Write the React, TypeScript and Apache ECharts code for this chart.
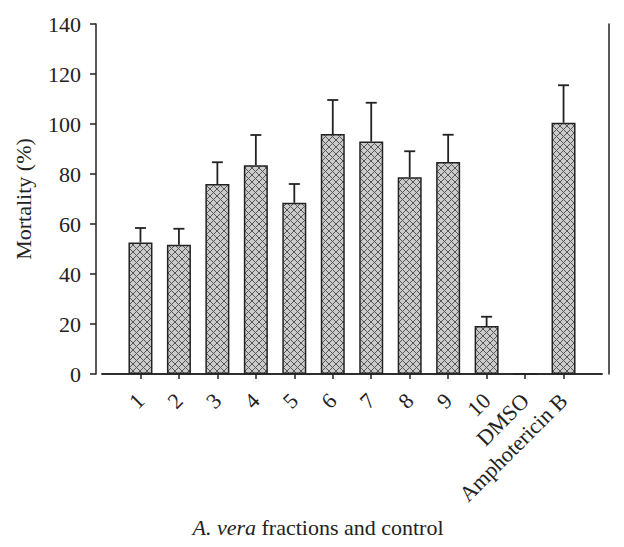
import React, { useEffect, useRef } from 'react';
import * as echarts from 'echarts';

const categories = ['1', '2', '3', '4', '5', '6', '7', '8', '9', '10', 'DMSO', 'Amphotericin B'];
const mortality = [52.6, 51.7, 76, 83.5, 68.5, 96, 93, 78.7, 84.8, 19.2, 0, 100.5];
const errors = [5.8, 6.4, 8.7, 12.1, 7.5, 13.6, 15.5, 10.4, 10.9, 3.7, 0, 15];
const yMin = 0;
const yMax = 140;
const yInterval = 20;
const yTitle = 'Mortality (%)';
const xTitleItalic = 'A. vera';
const xTitleRest = ' fractions and control';

const FONT = '"Liberation Serif", "DejaVu Serif", serif';
const INK = '#222';
const FS = 22;

function makePattern() {
  const s = 7;
  const c = document.createElement('canvas');
  c.width = s;
  c.height = s;
  const ctx = c.getContext('2d')!;
  ctx.fillStyle = '#cbcbcb';
  ctx.fillRect(0, 0, s, s);
  ctx.strokeStyle = '#555';
  ctx.lineWidth = 1;
  ctx.beginPath();
  ctx.moveTo(-1, -1);
  ctx.lineTo(s + 1, s + 1);
  ctx.moveTo(s + 1, -1);
  ctx.lineTo(-1, s + 1);
  ctx.stroke();
  return { image: c, repeat: 'repeat', imageWidth: s, imageHeight: s };
}

export default function App() {
  const ref = useRef<HTMLDivElement>(null);
  useEffect(() => {
    if (!ref.current) return;
    const chart = echarts.init(ref.current, undefined, { renderer: 'svg' });
    const padded = ['', ...categories, ''];
    const barData: any[] = ['-', ...mortality, '-'];
    const errData = categories
      .map((_, i) => [i + 1, mortality[i], errors[i]])
      .filter((d) => d[2] > 0);
    const lastIdx = padded.length - 1;
    chart.setOption({
      animation: false,
      grid: { left: 102, right: 22, top: 24, bottom: 173 },
      xAxis: [
        {
          type: 'category',
          data: padded,
          boundaryGap: false,
          position: 'bottom',
          offset: 10,
          axisLine: { show: true, lineStyle: { color: INK, width: 1.5 } },
          axisTick: {
            show: true,
            length: 5,
            interval: (i: number) => i > 0 && i < lastIdx,
            lineStyle: { color: INK, width: 1.5 },
          },
          axisLabel: {
            interval: 0,
            rotate: 45,
            margin: 13,
            fontFamily: FONT,
            fontSize: FS,
            color: INK,
          },
          splitLine: { show: false },
        },
        {
          type: 'category',
          data: padded,
          boundaryGap: false,
          position: 'top',
          offset: 10,
          axisLine: { show: true, lineStyle: { color: '#555', width: 2 } },
          axisTick: { show: false },
          axisLabel: { show: false },
          splitLine: { show: false },
        },
      ],
      yAxis: [
        {
          type: 'value',
          min: yMin,
          max: yMax,
          interval: yInterval,
          offset: 6,
          position: 'left',
          name: yTitle,
          nameLocation: 'middle',
          nameGap: 62,
          nameTextStyle: { fontFamily: FONT, fontSize: FS, color: INK },
          axisLine: { show: true, lineStyle: { color: INK, width: 1.5 } },
          axisTick: { show: true, length: 6, lineStyle: { color: INK, width: 1.5 } },
          axisLabel: { margin: 15, fontFamily: FONT, fontSize: FS, color: INK },
          splitLine: { show: false },
        },
        {
          type: 'value',
          min: yMin,
          max: yMax,
          interval: yInterval,
          position: 'right',
          offset: 7,
          axisLine: { show: true, lineStyle: { color: INK, width: 1.5 } },
          axisTick: { show: false },
          axisLabel: { show: false },
          splitLine: { show: false },
        },
      ],
      graphic: [
        {
          type: 'text',
          x: 318,
          y: 527,
          style: {
            text: `{i|${xTitleItalic}}${xTitleRest}`,
            textAlign: 'center',
            textVerticalAlign: 'middle',
            fontFamily: FONT,
            fontSize: FS,
            fill: INK,
            rich: { i: { fontStyle: 'italic', fontFamily: FONT, fontSize: FS, fill: INK } },
          },
        },
      ],
      series: [
        {
          type: 'bar',
          data: barData,
          barWidth: 24,
          itemStyle: { color: makePattern(), borderColor: INK, borderWidth: 1.5 },
          markLine: {
            silent: true,
            symbol: 'none',
            label: { show: false },
            lineStyle: { color: INK, width: 1.5, type: 'solid' },
            data: [{ yAxis: 0 }],
          },
        },
        {
          type: 'custom',
          data: errData,
          z: 3,
          renderItem: (params: any, api: any) => {
            const x = api.value(0);
            const v = api.value(1);
            const e = api.value(2);
            const b = api.coord([x, v]);
            const t = api.coord([x, v + e]);
            const hw = 5.5;
            const st = { stroke: INK, lineWidth: 1.8 };
            return {
              type: 'group',
              children: [
                { type: 'line', shape: { x1: b[0], y1: b[1], x2: t[0], y2: t[1] }, style: st },
                { type: 'line', shape: { x1: t[0] - hw, y1: t[1], x2: t[0] + hw, y2: t[1] }, style: st },
              ],
            };
          },
        },
      ],
    });
    return () => chart.dispose();
  }, []);
  return (
    <div
      ref={ref}
      style={{ position: 'fixed', left: 0, top: 0, width: 624, height: 547, background: '#fff' }}
    />
  );
}
